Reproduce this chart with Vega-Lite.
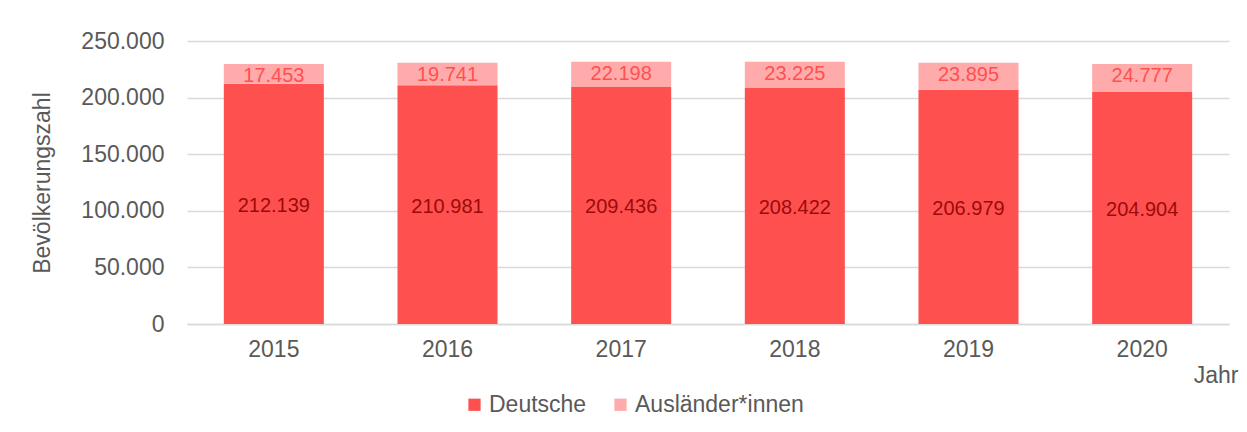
{
  "$schema": "https://vega.github.io/schema/vega-lite/v6.json",
  "width": 1042,
  "height": 283,
  "autosize": "none",
  "padding": {"left": 187, "top": 41, "right": 18, "bottom": 108},
  "background": "white",
  "config": {
    "locale": {"number": {"decimal": ",", "thousands": ".", "grouping": [3], "currency": ["", " €"]}},
    "font": "Liberation Sans",
    "view": {"stroke": null},
    "legend": {"padding": 0}
  },
  "data": {
    "values": [
      {"year": "2015", "group": "Deutsche", "value": 212139},
      {"year": "2015", "group": "Ausländer*innen", "value": 17453},
      {"year": "2016", "group": "Deutsche", "value": 210981},
      {"year": "2016", "group": "Ausländer*innen", "value": 19741},
      {"year": "2017", "group": "Deutsche", "value": 209436},
      {"year": "2017", "group": "Ausländer*innen", "value": 22198},
      {"year": "2018", "group": "Deutsche", "value": 208422},
      {"year": "2018", "group": "Ausländer*innen", "value": 23225},
      {"year": "2019", "group": "Deutsche", "value": 206979},
      {"year": "2019", "group": "Ausländer*innen", "value": 23895},
      {"year": "2020", "group": "Deutsche", "value": 204904},
      {"year": "2020", "group": "Ausländer*innen", "value": 24777}
    ]
  },
  "layer": [
    {
      "mark": {"type": "bar"},
      "encoding": {
        "x": {
          "field": "year", "type": "ordinal",
          "scale": {"paddingInner": 0.424, "paddingOuter": 0.212},
          "axis": {
            "title": "Jahr", "labelAngle": 0, "ticks": false,
            "domain": true, "domainColor": "#D9D9D9", "domainWidth": 1.5,
            "labelFontSize": 23, "labelColor": "#595959", "labelBaseline": "top", "labelPadding": 14,
            "titleFontSize": 23, "titleFontWeight": "normal", "titleColor": "#595959",
            "titleAnchor": "end", "titleAlign": "right", "titleX": 1051, "titleY": 58, "titleBaseline": "alphabetic"
          }
        },
        "y": {
          "field": "value", "type": "quantitative", "stack": "zero",
          "scale": {"domain": [0, 250000], "nice": false},
          "axis": {
            "title": "Bevölkerungszahl", "format": ",d", "values": [0, 50000, 100000, 150000, 200000, 250000],
            "ticks": false, "domain": false, "grid": true, "gridColor": "#D9D9D9", "gridWidth": 1.5,
            "labelFontSize": 23, "labelColor": "#595959", "labelPadding": 23,
            "titleFontSize": 23, "titleFontWeight": "normal", "titleColor": "#595959",
            "titleX": -145, "titleY": 141.5, "titleAngle": -90, "titleAlign": "center", "titleBaseline": "middle"
          }
        },
        "color": {
          "field": "group", "type": "nominal",
          "scale": {"domain": ["Deutsche", "Ausländer*innen"], "range": ["#FF5050", "#FFABAB"]},
          "legend": {
            "title": null, "orient": "none", "legendX": 276, "legendY": 352, "direction": "horizontal",
            "symbolType": "square", "symbolSize": 150, "symbolStrokeWidth": 0,
            "labelFontSize": 23, "labelColor": "#595959", "labelOffset": 3, "labelLimit": 0, "columnPadding": 22
          }
        },
        "order": {"field": "group", "sort": "descending"}
      }
    },
    {
      "transform": [{"filter": "datum.group === 'Deutsche'"}],
      "mark": {"type": "text", "fontSize": 20, "color": "#9C0A0A", "baseline": "middle", "dy": 2},
      "encoding": {
        "x": {"field": "year", "type": "ordinal"},
        "y": {"field": "value", "type": "quantitative", "stack": null, "scale": {"domain": [0, 500000], "nice": false}, "axis": null},
        "text": {"field": "value", "type": "quantitative", "format": ",d"}
      }
    },
    {
      "mark": {"type": "text", "fontSize": 20, "color": "#FF5050", "baseline": "middle", "dy": 12},
      "encoding": {
        "x": {"field": "year", "type": "ordinal"},
        "y": {"field": "value", "type": "quantitative", "stack": "zero", "scale": {"domain": [0, 250000], "nice": false}, "axis": null},
        "order": {"field": "group", "sort": "descending"},
        "text": {"field": "value", "type": "quantitative", "format": ",d"},
        "opacity": {"condition": {"test": "datum.group === 'Deutsche'", "value": 0}, "value": 1}
      }
    }
  ],
  "resolve": {"scale": {"y": "independent"}}
}
